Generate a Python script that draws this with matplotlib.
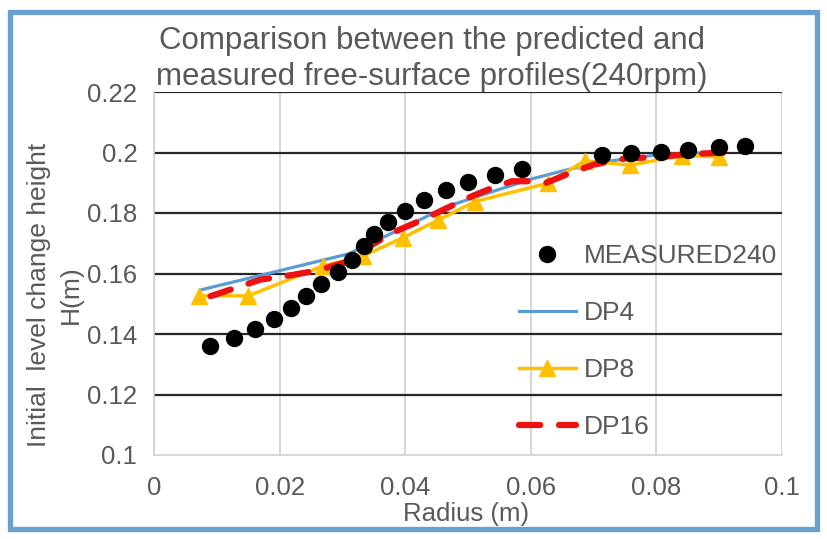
import matplotlib
matplotlib.use("Agg")
import matplotlib.pyplot as plt
from matplotlib.patches import FancyBboxPatch

plt.rcParams['font.family'] = ['Liberation Sans', 'DejaVu Sans']

# ---- data ----
meas_x = [0.0089, 0.0127, 0.0161, 0.0191, 0.0218, 0.0242, 0.0266, 0.0293, 0.0315, 0.0334,
          0.0350, 0.0373, 0.0400, 0.0430, 0.0465, 0.0500, 0.0543, 0.0586, 0.0714, 0.0760,
          0.0807, 0.0851, 0.0899, 0.0941]
meas_y = [0.1359, 0.1388, 0.1416, 0.1451, 0.1486, 0.1524, 0.1564, 0.1605, 0.1643, 0.1691,
          0.1732, 0.1769, 0.1806, 0.1843, 0.1876, 0.1904, 0.1926, 0.1945, 0.1991, 0.1998,
          0.2003, 0.2009, 0.2018, 0.2022]

dp4_x = [0.0073, 0.0310, 0.0470, 0.0600, 0.0700, 0.0800, 0.0900]
dp4_y = [0.1545, 0.1665, 0.1824, 0.1912, 0.1965, 0.1992, 0.2000]

dp8_x = [0.0071, 0.0150, 0.0269, 0.0333, 0.0397, 0.0452, 0.0511, 0.0627, 0.0686, 0.0758, 0.0840, 0.0899]
dp8_y = [0.1526, 0.1526, 0.1625, 0.1658, 0.1719, 0.1776, 0.1838, 0.1898, 0.1973, 0.1958, 0.1990, 0.1986]

dp16_x = [0.0090, 0.0170, 0.0220, 0.0260, 0.0310, 0.0335, 0.0380, 0.0430, 0.0470, 0.0500,
          0.0535, 0.0570, 0.0605, 0.0625, 0.0660, 0.0700, 0.0750, 0.0800, 0.0855, 0.0910]
dp16_y = [0.1525, 0.1580, 0.1595, 0.1610, 0.1640, 0.1680, 0.1735, 0.1780, 0.1820, 0.1850,
          0.1880, 0.1905, 0.1905, 0.1900, 0.1930, 0.1960, 0.1980, 0.1985, 0.1995, 0.2000]

x_ticks = [0, 0.02, 0.04, 0.06, 0.08, 0.1]
x_tick_labels = ['0', '0.02', '0.04', '0.06', '0.08', '0.1']
y_ticks = [0.1, 0.12, 0.14, 0.16, 0.18, 0.2, 0.22]
y_tick_labels = ['0.1', '0.12', '0.14', '0.16', '0.18', '0.2', '0.22']

title_text = "Comparison between the predicted and\nmeasured free-surface profiles(240rpm)"
ylabel_text = "Initial  level change height\nH(m)"
xlabel_text = "Radius (m)"

TXT = '#595959'
W, H = 827, 539
fig = plt.figure(figsize=(W / 100, H / 100), dpi=100)
ax = fig.add_axes([154 / W, 1 - 455 / H, (782 - 154) / W, (455 - 92) / H])

# border
fig.patches.append(FancyBboxPatch((10 / W, 10 / H), (W - 20) / W, (H - 22) / H,
                                  boxstyle="square,pad=0", transform=fig.transFigure,
                                  fill=False, edgecolor='#6a9fd0', linewidth=3.8))

ax.set_xlim(0, 0.1)
ax.set_ylim(0.1, 0.22)
ax.set_xticks(x_ticks)
ax.set_xticklabels(x_tick_labels)
ax.set_yticks(y_ticks)
ax.set_yticklabels(y_tick_labels)
ax.tick_params(length=0, labelsize=18.5, labelcolor=TXT)
ax.tick_params(axis='y', pad=12)
ax.tick_params(axis='x', pad=15)
for s in ['top', 'right']:
    ax.spines[s].set_visible(False)
for s in ['left', 'bottom']:
    ax.spines[s].set_color('#d0d0d0')
    ax.spines[s].set_linewidth(1.2)
ax.set_axisbelow(True)
ax.xaxis.grid(True, color='#d0d0d0', linewidth=1.2)
for yt in y_ticks[1:]:
    ax.axhline(yt, color='#262626', linewidth=1.6, zorder=0.6)

ax.plot(dp4_x, dp4_y, color='#5b9bd5', linewidth=2.3, label='DP4', zorder=2)
ax.plot(dp8_x, dp8_y, color='#ffc000', linewidth=2.5, marker='^', markersize=11,
        label='DP8', zorder=3)
ax.plot(dp16_x, dp16_y, color='#ee1111', linewidth=4.5, linestyle=(0, (3.4, 3.0)),
        dash_capstyle='round', label='DP16', zorder=4)
ax.plot(meas_x, meas_y, linestyle='none', marker='o', markersize=11.5, color='black',
        label='MEASURED240', zorder=5)

handles, labels = ax.get_legend_handles_labels()
order = [3, 0, 1, 2]
leg = ax.legend([handles[i] for i in order], [labels[i] for i in order],
                loc='upper left', bbox_to_anchor=(519 / W, 1 - 244 / H),
                bbox_transform=fig.transFigure, frameon=False, fontsize=19,
                handlelength=2.15, handletextpad=0.3, labelspacing=1.25,
                borderaxespad=0, borderpad=0)
for t in leg.get_texts():
    t.set_color(TXT)

fig.text(432 / W, 1 - 59 / H, title_text, ha='center', va='center', fontsize=22.5,
         color=TXT, linespacing=1.22)
fig.text(55 / W, 1 - 295 / H, ylabel_text, ha='center', va='center', rotation=90,
         fontsize=19, color=TXT, multialignment='center', linespacing=1.4)
fig.text(466 / W, 1 - 514 / H, xlabel_text, ha='center', va='center', fontsize=18.5,
         color=TXT)

fig.savefig('out.png', dpi=100, facecolor='white')
